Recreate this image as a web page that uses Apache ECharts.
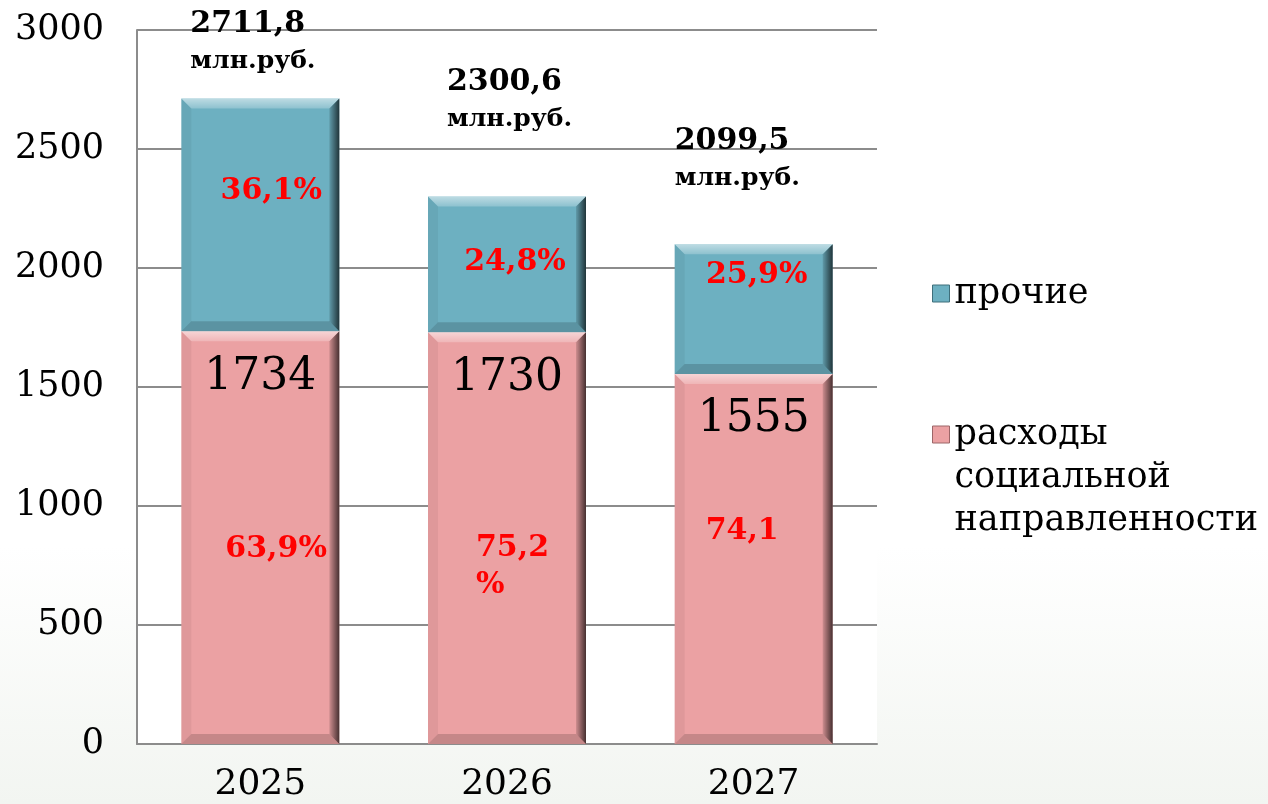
<!DOCTYPE html>
<html>
<head>
<meta charset="utf-8">
<script src="https://cdn.jsdelivr.net/npm/echarts@6/dist/echarts.min.js"></script>
<style>
html,body{margin:0;padding:0;background:#fff;}
#chart{width:1268px;height:804px;}
</style>
</head>
<body>
<div id="chart"></div>
<script>
// ---- data ----
const categories = ['2025', '2026', '2027'];
const socialValues = [1734, 1730, 1555];
const otherValues = [977.8, 570.6, 544.5];
const totals = [2711.8, 2300.6, 2099.5];
const totalLabels = ['2711,8', '2300,6', '2099,5'];
const unitLabel = 'млн.руб.';
const otherShares = ['36,1%', '24,8%', '25,9%'];
const socialShares = ['63,9%', '75,2\n%', '74,1'];
const socialName = 'расходы\nсоциальной\nнаправленности';
const otherName = 'прочие';
const yMin = 0, yMax = 3000, yInterval = 500;

// ---- layout (label nudges) ----
const otherShareOffsets = [[11, -24], [8, -2], [3, -34]];
const socialShareOffsets = [[-35, 12], [-31, 29], [-48, -28]];
const totalOffsets = [[-70, -19], [-60, -59], [-79, -48]];

const SERIF = '"DejaVu Serif", "Liberation Serif", serif';
const BAR_W = 158;
const BEVEL = 10;

const tealColor = '#6db0c1';
const pinkColor = '#eba1a3';

// bevel overlay data built from the stacked series: [category, base, top]
const bevelData = [];
categories.forEach((c, i) => {
  bevelData.push([i, 0, socialValues[i]]);
  bevelData.push([i, socialValues[i], socialValues[i] + otherValues[i]]);
});

function renderBevel(params, api) {
  const i = api.value(0);
  const pTop = api.coord([i, api.value(2)]);
  const pBot = api.coord([i, api.value(1)]);
  const L = pTop[0] - BAR_W / 2, R = pTop[0] + BAR_W / 2;
  const T = pTop[1], B = pBot[1], b = BEVEL;
  return {
    type: 'group',
    children: [
      {type: 'polygon', shape: {points: [[L, T], [R, T], [R - b, T + b], [L + b, T + b]]},
        style: {fill: new echarts.graphic.LinearGradient(0, 0, 0, 1, [
          {offset: 0, color: 'rgba(255,255,255,0.55)'}, {offset: 1, color: 'rgba(255,255,255,0.22)'}])}},
      {type: 'polygon', shape: {points: [[L, T], [L + b, T + b], [L + b, B - b], [L, B]]},
        style: {fill: 'rgba(0,0,0,0.05)'}},
      {type: 'polygon', shape: {points: [[L, B], [L + b, B - b], [R - b, B - b], [R, B]]},
        style: {fill: 'rgba(0,0,0,0.16)'}},
      {type: 'polygon', shape: {points: [[R, T], [R, B], [R - b, B - b], [R - b, T + b]]},
        style: {fill: new echarts.graphic.LinearGradient(0, 0, 1, 0, [
          {offset: 0, color: 'rgba(0,0,0,0.12)'}, {offset: 1, color: 'rgba(0,0,0,0.7)'}])}}
    ]
  };
}

const chart = echarts.init(document.getElementById('chart'), null, {renderer: 'canvas'});

const legendText = {fontFamily: SERIF, fontSize: 35, color: '#000', lineHeight: 43};

const option = {
  animation: false,
  backgroundColor: new echarts.graphic.LinearGradient(0, 0, 0, 1, [
    {offset: 0, color: '#ffffff'}, {offset: 0.68, color: '#ffffff'}, {offset: 1, color: '#f2f5f1'}
  ]),
  textStyle: {fontFamily: SERIF},
  grid: {left: 137, right: 391, top: 30, bottom: 60, show: true, backgroundColor: '#ffffff', borderWidth: 0},
  legend: [
    {
      data: [otherName], orient: 'vertical', left: 932, top: 272, padding: 0,
      itemWidth: 17, itemHeight: 17, selectedMode: false, icon: 'rect',
      itemStyle: {borderColor: '#3f6f7b', borderWidth: 1},
      textStyle: legendText
    },
    {
      data: [socialName], orient: 'vertical', left: 932, top: 327, padding: 0,
      itemWidth: 17, itemHeight: 17, selectedMode: false, icon: 'rect',
      itemStyle: {borderColor: '#9c6668', borderWidth: 1},
      formatter: name => '\n\n' + name,
      textStyle: legendText
    }
  ],
  xAxis: {
    type: 'category', data: categories,
    axisLine: {lineStyle: {color: '#8c8c8c', width: 2}},
    axisTick: {show: false},
    axisLabel: {fontFamily: SERIF, fontSize: 36, color: '#000', margin: 23}
  },
  yAxis: {
    type: 'value', min: yMin, max: yMax, interval: yInterval,
    axisLine: {show: true, lineStyle: {color: '#8c8c8c', width: 2}},
    axisTick: {show: false},
    splitLine: {lineStyle: {color: '#8c8c8c', width: 2}},
    axisLabel: {fontFamily: SERIF, fontSize: 35, color: '#000', margin: 33, formatter: v => String(v)}
  },
  series: [
    {
      name: socialName, type: 'bar', stack: 'total', barWidth: BAR_W, barGap: '-100%', z: 2,
      itemStyle: {color: pinkColor},
      label: {show: true, position: 'insideTop', distance: 24, fontFamily: SERIF, fontSize: 44, color: '#000'},
      data: socialValues
    },
    {
      name: otherName, type: 'bar', stack: 'total', barWidth: BAR_W, barGap: '-100%', z: 2,
      itemStyle: {color: tealColor},
      data: otherValues.map((v, i) => ({
        value: v,
        label: {
          show: true, position: 'inside', formatter: otherShares[i], offset: otherShareOffsets[i],
          fontFamily: SERIF, fontWeight: 'bold', fontSize: 30, color: '#ff0000'
        }
      }))
    },
    {
      name: 'bevel', type: 'custom', z: 3, silent: true,
      renderItem: renderBevel,
      encode: {x: 0, y: 2},
      data: bevelData
    },
    {
      name: 'socialShare', type: 'bar', stack: 'ov1', barWidth: BAR_W, barGap: '-100%', silent: true, z: 4,
      itemStyle: {color: 'rgba(0,0,0,0)'},
      data: socialValues.map((v, i) => ({
        value: v,
        label: {
          show: true, position: 'inside', align: 'left', formatter: socialShares[i], offset: socialShareOffsets[i],
          fontFamily: SERIF, fontWeight: 'bold', fontSize: 30, lineHeight: 37, color: '#ff0000'
        }
      }))
    },
    {
      name: 'totals', type: 'bar', stack: 'ov2', barWidth: BAR_W, barGap: '-100%', silent: true, z: 4,
      itemStyle: {color: 'rgba(0,0,0,0)'},
      data: totals.map((v, i) => ({
        value: v,
        label: {
          show: true, position: 'top', distance: 0, align: 'left', verticalAlign: 'bottom',
          offset: totalOffsets[i],
          formatter: '{a|' + totalLabels[i] + '}\n{b|' + unitLabel + '}',
          rich: {
            a: {fontFamily: SERIF, fontWeight: 'bold', fontSize: 30, lineHeight: 38, color: '#000'},
            b: {fontFamily: SERIF, fontWeight: 'bold', fontSize: 25, lineHeight: 36, color: '#000'}
          }
        }
      }))
    }
  ]
};
chart.setOption(option);
</script>
</body>
</html>
